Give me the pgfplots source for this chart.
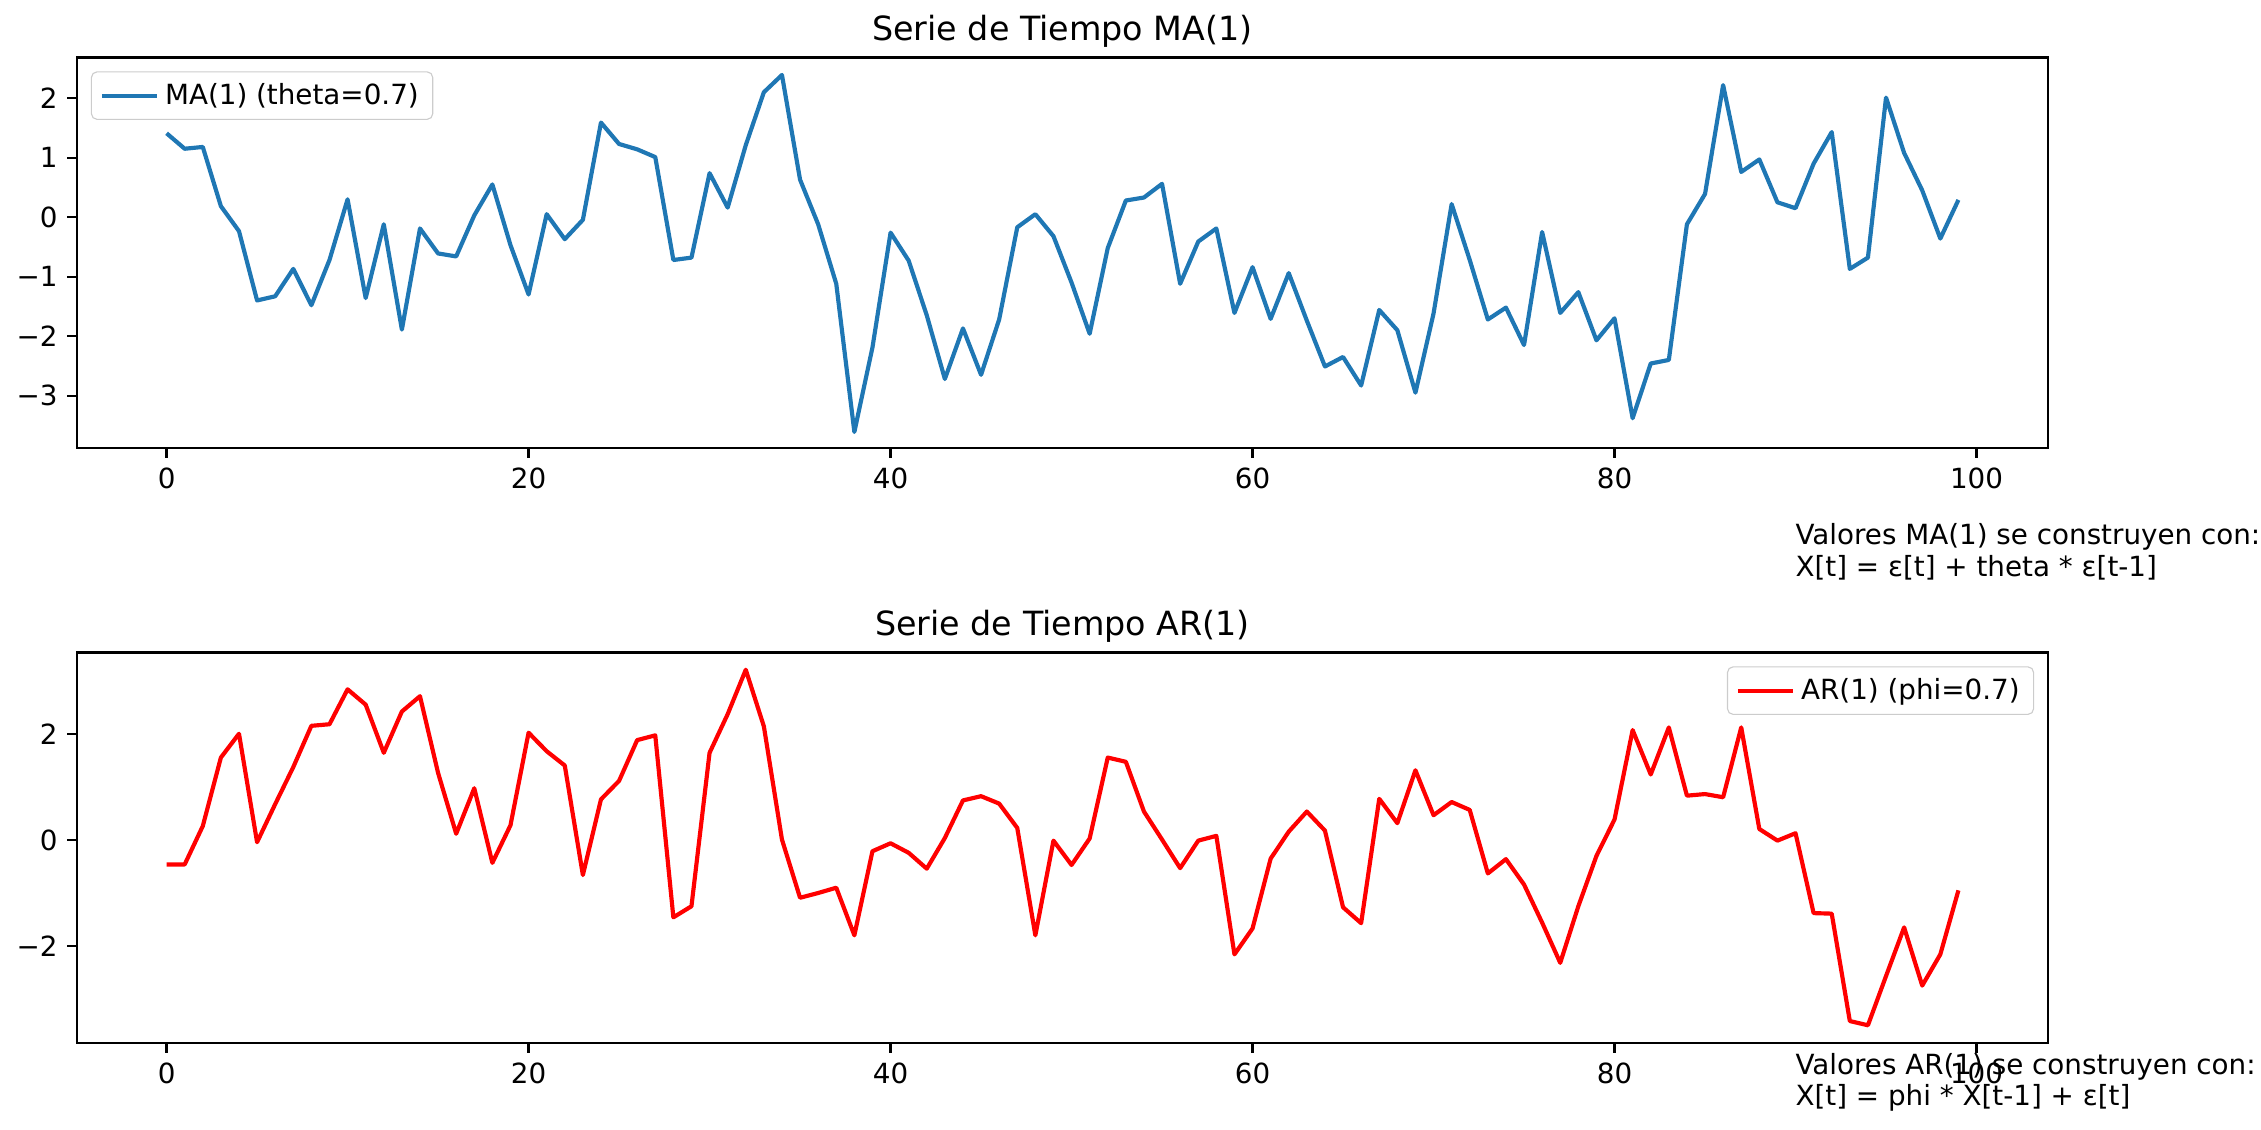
\documentclass[border=0pt]{standalone}
\usepackage{fontspec}
\setmainfont{DejaVu Sans}
\usepackage{pgfplots}
\usepackage{pgfplotstable}
\pgfplotsset{compat=1.18}
\definecolor{tabblue}{HTML}{1F77B4}

\pgfplotstableread{
t v
0 1.41
1 1.15
2 1.18
3 0.185
4 -0.235
5 -1.40
6 -1.33
7 -0.87
8 -1.48
9 -0.72
10 0.30
11 -1.36
12 -0.12
13 -1.89
14 -0.19
15 -0.61
16 -0.66
17 0.03
18 0.55
19 -0.47
20 -1.30
21 0.05
22 -0.37
23 -0.045
24 1.59
25 1.23
26 1.14
27 1.01
28 -0.72
29 -0.68
30 0.74
31 0.16
32 1.21
33 2.10
34 2.39
35 0.63
36 -0.12
37 -1.12
38 -3.61
39 -2.19
40 -0.26
41 -0.73
42 -1.65
43 -2.72
44 -1.87
45 -2.65
46 -1.72
47 -0.17
48 0.05
49 -0.32
50 -1.10
51 -1.96
52 -0.52
53 0.28
54 0.33
55 0.56
56 -1.12
57 -0.41
58 -0.19
59 -1.61
60 -0.84
61 -1.71
62 -0.94
63 -1.74
64 -2.51
65 -2.35
66 -2.83
67 -1.56
68 -1.90
69 -2.95
70 -1.62
71 0.22
72 -0.72
73 -1.72
74 -1.52
75 -2.15
76 -0.25
77 -1.61
78 -1.26
79 -2.07
80 -1.70
81 -3.38
82 -2.46
83 -2.40
84 -0.12
85 0.39
86 2.22
87 0.76
88 0.97
89 0.25
90 0.15
91 0.90
92 1.43
93 -0.87
94 -0.68
95 2.01
96 1.08
97 0.45
98 -0.36
99 0.29
}\madata

\pgfplotstableread{
t v
0 -0.46
1 -0.46
2 0.265
3 1.56
4 2.01
5 -0.04
6 0.68
7 1.38
8 2.16
9 2.19
10 2.85
11 2.56
12 1.65
13 2.43
14 2.72
15 1.27
16 0.12
17 0.98
18 -0.43
19 0.28
20 2.03
21 1.68
22 1.41
23 -0.66
24 0.77
25 1.12
26 1.89
27 1.98
28 -1.46
29 -1.25
30 1.65
31 2.38
32 3.22
33 2.15
34 0.01
35 -1.09
36 -1.00
37 -0.90
38 -1.80
39 -0.21
40 -0.06
41 -0.24
42 -0.54
43 0.04
44 0.75
45 0.83
46 0.69
47 0.23
48 -1.80
49 -0.01
50 -0.47
51 0.03
52 1.56
53 1.48
54 0.54
55 0.01
56 -0.53
57 -0.01
58 0.08
59 -2.16
60 -1.67
61 -0.35
62 0.16
63 0.54
64 0.18
65 -1.27
66 -1.57
67 0.78
68 0.32
69 1.32
70 0.47
71 0.72
72 0.57
73 -0.63
74 -0.36
75 -0.84
76 -1.56
77 -2.32
78 -1.25
79 -0.30
80 0.39
81 2.08
82 1.24
83 2.13
84 0.84
85 0.87
86 0.81
87 2.13
88 0.21
89 -0.01
90 0.13
91 -1.38
92 -1.39
93 -3.42
94 -3.50
95 -2.57
96 -1.65
97 -2.75
98 -2.16
99 -0.95
}\ardata

\pgfplotsset{
  myaxis/.style={
    scale only axis,
    width=709.56pt,
    height=140.6pt,
    xmin=-4.95, xmax=103.95,
    xtick={0,20,40,60,80,100},
    tick align=outside,
    xtick pos=bottom, ytick pos=left,
    major tick length=3.5pt,
    major tick style={line width=0.8pt, black},
    axis line style={line width=0.8pt},
    tick label style={font=\fontsize{10}{12}\selectfont},
    /pgf/number format/assume math mode=true,
    every axis title shift=0pt,
    title style={font=\fontsize{12}{14}\selectfont},
    legend cell align=left,
    legend image code/.code={\draw[##1] (0pt,0pt) -- (20pt,0pt);},
    legend style={draw=black!20, rounded corners=2pt, font=\fontsize{10}{12}\selectfont,
      inner xsep=3pt, inner ysep=2pt},
  }
}

\begin{document}
\begin{tikzpicture}
\path[use as bounding box] (0pt,0pt) rectangle (813.96pt,406.8pt);

\begin{axis}[myaxis,
  at={(27.72pt,245.52pt)}, anchor=south west,
  ymin=-3.88, ymax=2.685,
  ytick={-3,-2,-1,0,1,2},
  yticklabels={−3,−2,−1,0,1,2},
  title={Serie de Tiempo MA(1)},
  legend style={at={(0,1)}, anchor=north west, xshift=5pt, yshift=-5pt},
]
\addplot[tabblue, line width=1.5pt, line join=round] table[x=t, y=v] {\madata};
\addlegendentry{MA(1) (theta=0.7)}
\end{axis}

\begin{axis}[myaxis,
  at={(27.72pt,31.32pt)}, anchor=south west,
  ymin=-3.835, ymax=3.547,
  ytick={-2,0,2},
  yticklabels={−2,0,2},
  title={Serie de Tiempo AR(1)},
  legend style={at={(1,1)}, anchor=north east, xshift=-5pt, yshift=-5pt},
]
\addplot[red, line width=1.5pt, line join=round] table[x=t, y=v] {\ardata};
\addlegendentry{AR(1) (phi=0.7)}
\end{axis}

\node[anchor=base west, inner sep=0pt, font=\fontsize{10}{12}\selectfont] at (646.2pt,210.6pt) {Valores MA(1) se construyen con:};
\node[anchor=base west, inner sep=0pt, font=\fontsize{10}{12}\selectfont] at (646.2pt,199.1pt) {X[t] = ε[t] + theta * ε[t-1]};
\node[anchor=base west, inner sep=0pt, font=\fontsize{10}{12}\selectfont] at (646.2pt,19.8pt) {Valores AR(1) se construyen con:};
\node[anchor=base west, inner sep=0pt, font=\fontsize{10}{12}\selectfont] at (646.2pt,8.64pt) {X[t] = phi * X[t-1] + ε[t]};
\end{tikzpicture}
\end{document}
